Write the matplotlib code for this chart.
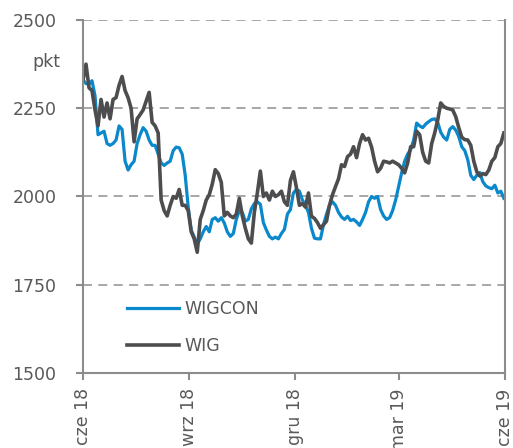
import matplotlib
matplotlib.use('Agg')
import matplotlib.pyplot as plt
import matplotlib.dates as mdates
import pandas as pd

# odczyty z wykresu, co ok. 2,6 dnia od cze 18 do cze 19
wig = [2330, 2375, 2308, 2300, 2245, 2200, 2275, 2225, 2265, 2220,
       2275, 2280, 2315, 2340, 2300, 2280, 2250, 2155, 2220, 2232,
       2245, 2270, 2295, 2210, 2200, 2180, 1990, 1960, 1945, 1975,
       2000, 1995, 2020, 1975, 1975, 1960, 1900, 1880, 1842, 1935,
       1960, 1990, 2005, 2035, 2076, 2065, 2040, 1945, 1955, 1945,
       1940, 1950, 1995, 1945, 1910, 1880, 1868, 1955, 2010, 2072,
       2000, 2010, 1990, 2015, 2000, 2005, 2015, 1985, 1975, 2045,
       2070, 2025, 1975, 1980, 1970, 2010, 1944, 1938, 1926, 1910,
       1920, 1930, 1975, 2005, 2028, 2050, 2090, 2085, 2113, 2120,
       2141, 2110, 2150, 2175, 2160, 2165, 2140, 2100, 2070, 2080,
       2100, 2098, 2095, 2100, 2095, 2090, 2080, 2067, 2095, 2141,
       2141, 2185, 2175, 2125, 2100, 2095, 2150, 2180, 2217, 2265,
       2255, 2250, 2248, 2245, 2226, 2195, 2168, 2161, 2160, 2145,
       2100, 2070, 2058, 2065, 2062, 2075, 2100, 2110, 2141, 2150,
       2180]

wigcon = [2330, 2320, 2318, 2328, 2285, 2175, 2180, 2185, 2150, 2145,
          2150, 2160, 2200, 2190, 2100, 2075, 2090, 2100, 2150, 2175,
          2195, 2185, 2160, 2145, 2145, 2120, 2095, 2088, 2095, 2100,
          2130, 2140, 2138, 2120, 2060, 1970, 1905, 1885, 1865, 1880,
          1900, 1915, 1900, 1935, 1940, 1930, 1940, 1925, 1900, 1887,
          1895, 1935, 1960, 1955, 1930, 1935, 1965, 1980, 1985, 1978,
          1926, 1905, 1887, 1880, 1885, 1880, 1895, 1907, 1950, 1963,
          2010, 2020, 2015, 1990, 1975, 1955, 1910, 1882, 1880, 1880,
          1920, 1950, 1975, 1985, 1975, 1955, 1942, 1935, 1944, 1932,
          1935, 1928, 1918, 1935, 1955, 1985, 2000, 1995, 2000, 1963,
          1945, 1935, 1940, 1960, 1990, 2028, 2067, 2100, 2120, 2133,
          2160, 2208, 2200, 2195, 2205, 2212, 2218, 2220, 2210, 2182,
          2168, 2160, 2190, 2198, 2188, 2170, 2141, 2130, 2104, 2060,
          2048, 2060, 2068, 2042, 2030, 2025, 2022, 2032, 2010, 2015,
          1995]

tick_dates = ['2018-06-01', '2018-09-01', '2018-12-01', '2019-03-01', '2019-06-01']
tick_labels = ['cze 18', 'wrz 18', 'gru 18', 'mar 19', 'cze 19']

dates = pd.date_range('2018-06-01', '2019-05-31', periods=len(wig))

txt = '#595959'
grid_col = '#a0a0a0'
plt.rcParams['font.family'] = 'DejaVu Sans'
plt.rcParams['font.size'] = 12.5

fig = plt.figure(figsize=(5.13, 4.48), dpi=100)
ax = fig.add_axes([83 / 513, 1 - 373 / 448, 422 / 513, 353 / 448])

ax.plot(dates, wigcon, color='#0a88cc', lw=2.3, label='WIGCON', solid_joinstyle='round')
ax.plot(dates, wig, color='#4d4d4f', lw=2.6, label='WIG', solid_joinstyle='round')

ax.set_ylim(1500, 2500)
ax.set_yticks([1500, 1750, 2000, 2250, 2500])
ax.set_xlim(pd.Timestamp('2018-06-01'), pd.Timestamp('2019-06-01'))
ax.set_xticks(pd.to_datetime(tick_dates))
ax.set_xticklabels(tick_labels, rotation=90)

ax.yaxis.grid(True, color=grid_col, ls=(0, (5, 3.5)), lw=1.3)
ax.set_axisbelow(True)
ax.spines['top'].set_visible(False)
for s in ['left', 'right', 'bottom']:
    ax.spines[s].set_color('#8c8c8c')
    ax.spines[s].set_linewidth(1.5)

ax.tick_params(axis='y', colors=txt, length=5, width=1.5, color='#8c8c8c', pad=14)
ax.tick_params(axis='x', colors=txt, length=5, width=1.5, color='#8c8c8c', pad=6)

fig.text(60 / 513, 1 - 62 / 448, 'pkt', ha='right', va='center', color=txt)

leg = ax.legend(loc='upper left', bbox_to_anchor=(0.104, 0.206), frameon=False,
                borderpad=0, borderaxespad=0, handlelength=3.0, handletextpad=0.3,
                labelspacing=1.1)
for t in leg.get_texts():
    t.set_color(txt)

fig.savefig('out.png', dpi=100)
